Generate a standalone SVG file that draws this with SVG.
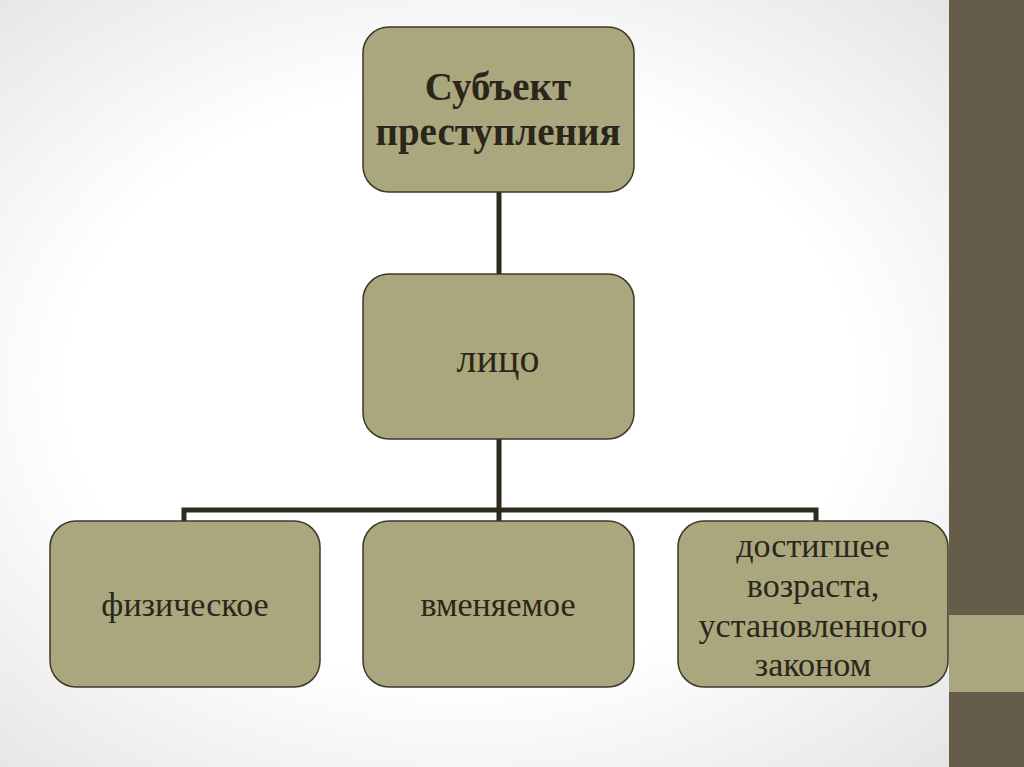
<svg xmlns="http://www.w3.org/2000/svg" width="1024" height="767" viewBox="0 0 1024 767">
<defs>
<radialGradient id="bg" cx="0.45" cy="0.5" r="0.7">
<stop offset="0.55" stop-color="#ffffff"/>
<stop offset="1" stop-color="#e4e4e4"/>
</radialGradient>
<style>
.box{fill:#aaa77f;stroke:#3d3829;stroke-width:1.5}
.t{font-family:"Liberation Serif","Times New Roman",serif;fill:#2b2619;text-anchor:middle}
.b{font-weight:bold;font-size:39px}
.r{font-size:34px}
.c{fill:none;stroke:#2e2a1e;stroke-width:5}
</style>
</defs>
<rect x="0" y="0" width="1024" height="767" fill="url(#bg)"/>
<rect x="949" y="0" width="75" height="767" fill="#655d49"/>
<rect x="949" y="615" width="75" height="77" fill="#aaa67f"/>
<g id="connectors">
<line class="c" x1="499" y1="192" x2="499" y2="274"/>
<line class="c" x1="499" y1="439" x2="499" y2="521"/>
<polyline class="c" points="184,521 184,510 816,510 816,521"/>
</g>
<g id="n1">
<rect class="box" x="363" y="27" width="271" height="165" rx="26"/>
<text class="t b" x="498" y="100">Субъект</text>
<text class="t b" x="498" y="145">преступления</text>
</g>
<g id="n2">
<rect class="box" x="363" y="274" width="271" height="165" rx="26"/>
<text class="t r" x="498" y="372" style="font-size:40px">лицо</text>
</g>
<g id="n3">
<rect class="box" x="50" y="521" width="270" height="166" rx="26"/>
<text class="t r" x="185" y="616">физическое</text>
</g>
<g id="n4">
<rect class="box" x="363" y="521" width="271" height="166" rx="26"/>
<text class="t r" x="498" y="616">вменяемое</text>
</g>
<g id="n5">
<rect class="box" x="678" y="521" width="270" height="166" rx="26"/>
<text class="t r" x="813" y="557">достигшее</text>
<text class="t r" x="813" y="597">возраста,</text>
<text class="t r" x="813" y="637">установленного</text>
<text class="t r" x="813" y="676">законом</text>
</g>
</svg>
